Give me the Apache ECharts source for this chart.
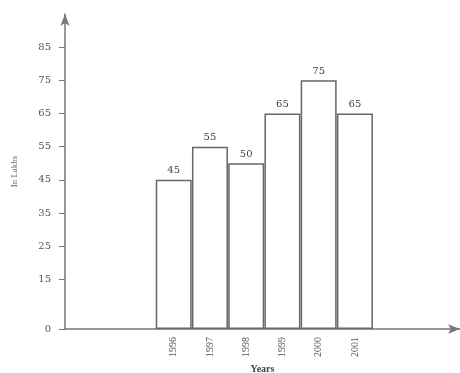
<!DOCTYPE html>
<html><head><meta charset="utf-8">
<script src="https://cdn.jsdelivr.net/npm/echarts@6/dist/echarts.min.js"></script>
<style>html,body{margin:0;padding:0;background:#fff}#c{width:460px;height:373px}</style>
</head><body><div id="c"></div>
<script>
const years = ['1996','1997','1998','1999','2000','2001'];
const values = [45, 55, 50, 65, 75, 65];
const yTicks = [0, 15, 25, 35, 45, 55, 65, 75, 85];

const chart = echarts.init(document.getElementById('c'), null, {renderer:'canvas'});
chart.setOption({
  animation:false,
  grid:{left:65, right:0, top:14, bottom:44, containLabel:false, outerBoundsMode:'none'},
  xAxis:{
    type:'value', min:-3, max:7.9,
    name:'Years', nameLocation:'middle', nameGap:34,
    nameTextStyle:{fontFamily:'Liberation Serif', fontSize:10, fontWeight:'bold', color:'#444'},
    axisLine:{show:true, onZero:false, symbol:['none','arrow'], symbolSize:[7,12], lineStyle:{color:'#777', width:1.5}},
    axisTick:{show:false},
    splitLine:{show:false},
    axisLabel:{customValues:[0,1,2,3,4,5], rotate:90, margin:8,
      formatter:(v)=>years[Math.round(v)]||'',
      fontFamily:'Liberation Serif', fontSize:10, color:'#555'}
  },
  yAxis:{
    type:'value', min:0, max:95,
    name:'In Lakhs', nameLocation:'middle', nameGap:46,
    nameTextStyle:{fontFamily:'Liberation Serif', fontSize:9, color:'#666'},
    axisLine:{show:true, onZero:false, symbol:['none','arrow'], symbolSize:[7,12], lineStyle:{color:'#777', width:1.5}},
    axisTick:{show:true, customValues:yTicks, length:6, lineStyle:{color:'#777'}},
    splitLine:{show:false},
    axisLabel:{customValues:yTicks, margin:14, fontFamily:'DejaVu Serif', fontSize:10, color:'#555'}
  },
  series:[{
    type:'bar',
    data:values.map((v,i)=>[i, v]),
    barWidth:36,
    itemStyle:{color:'#fff', borderColor:'#666', borderWidth:1.5},
    label:{show:true, position:'top', distance:4, fontFamily:'DejaVu Serif', fontSize:10, color:'#444'}
  }]
});
</script></body></html>
